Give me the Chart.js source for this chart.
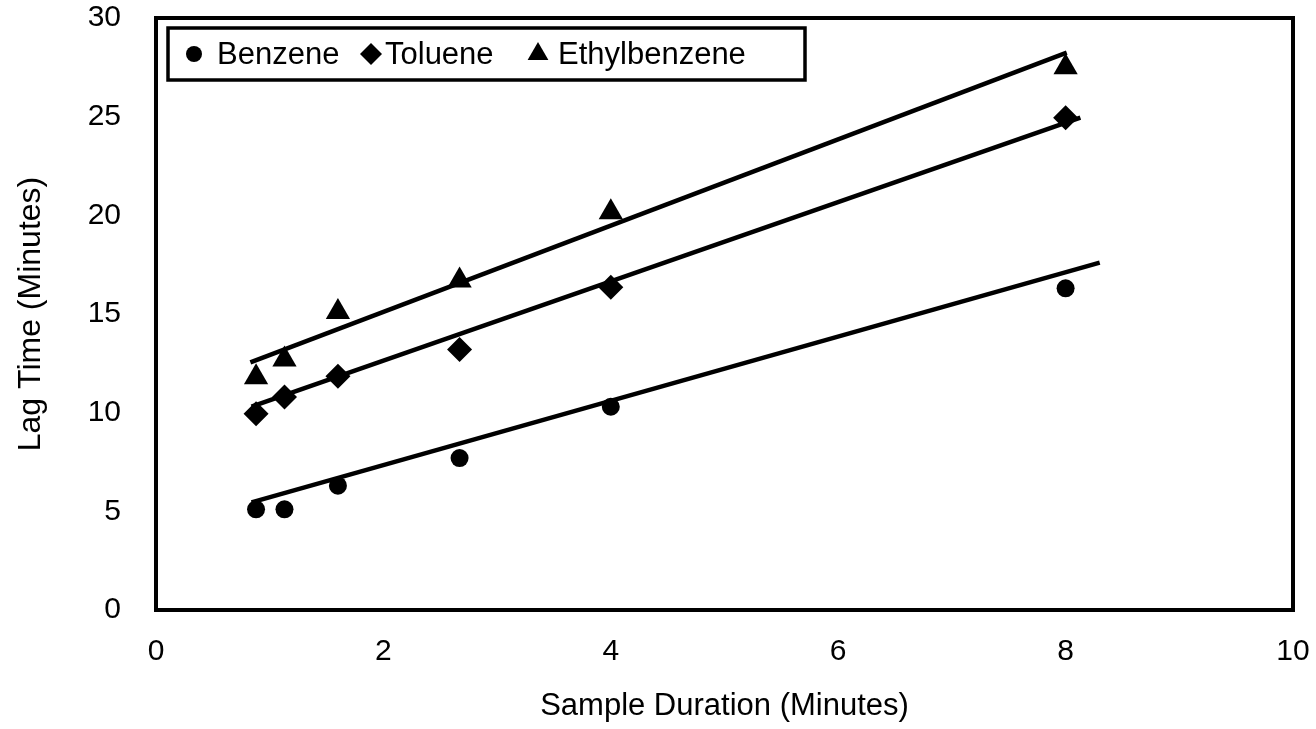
<!DOCTYPE html>
<html>
<head>
<meta charset="utf-8">
<script src="https://cdn.jsdelivr.net/npm/chart.js@4/dist/chart.umd.min.js"></script>
<style>
  html, body { margin: 0; padding: 0; background: #fff; }
  #wrap { width: 1316px; height: 729px; }
</style>
</head>
<body>
<div id="wrap"><canvas id="lagChart"></canvas></div>
<script>
// sample durations (minutes)
const durations = [0.88, 1.13, 1.6, 2.67, 4, 8];

// measured lag times (minutes)
const benzene = [5.1, 5.1, 6.3, 7.7, 10.3, 16.3];
const toluene = [9.95, 10.8, 11.85, 13.2, 16.35, 24.95];
const ethylbenzene = [11.8, 12.7, 15.1, 16.7, 20.15, 27.5];

// fitted lines, as drawn: [x start, x end] and [y start, y end]
const fitX = {
    benzene: [0.84, 8.3],
    toluene: [0.84, 8.13],
    ethylbenzene: [0.83, 8.01]
};
const fitY = {
    benzene: [5.45, 17.6],
    toluene: [10.3, 24.95],
    ethylbenzene: [12.55, 28.25]
};

const xTicks = [0, 2, 4, 6, 8, 10];
const yTicks = [0, 5, 10, 15, 20, 25, 30];

const FONT = '"Liberation Sans", Arial, sans-serif';

function pts(xs, ys) {
    return xs.map((x, i) => ({ x: x, y: ys[i] }));
}

// legend entries; offsets are from the left edge of the legend box
const legendItems = [
    { label: 'Benzene', style: 'circle', r: 8, mx: 26, tx: 49 },
    { label: 'Toluene', style: 'rectRot', r: 11, mx: 203, tx: 217 },
    { label: 'Ethylbenzene', style: 'triangle', r: 12, mx: 370, tx: 390 }
];

// frame around the plot + legend box inside it
const framePlugin = {
    id: 'frame',
    afterDatasetsDraw(chart) {
        const ctx = chart.ctx;
        const a = chart.chartArea;
        ctx.save();
        ctx.strokeStyle = '#000';
        ctx.lineWidth = 4;
        ctx.strokeRect(a.left, a.top, a.right - a.left, a.bottom - a.top);

        // legend
        const bx = a.left + 12, by = a.top + 10, bw = 637, bh = 52;
        ctx.fillStyle = '#fff';
        ctx.fillRect(bx, by, bw, bh);
        ctx.lineWidth = 3.5;
        ctx.strokeRect(bx, by, bw, bh);
        ctx.font = '31px ' + FONT;
        ctx.textBaseline = 'middle';
        const cy = by + bh / 2;
        legendItems.forEach(it => {
            ctx.fillStyle = '#000';
            Chart.helpers.drawPoint(ctx, { pointStyle: it.style, radius: it.r, borderWidth: 0 }, bx + it.mx, cy);
            ctx.fillStyle = '#000';
            ctx.fillText(it.label, bx + it.tx, cy + 1);
        });
        ctx.restore();
    }
};

const ctx = document.getElementById('lagChart').getContext('2d');

new Chart(ctx, {
    type: 'scatter',
    data: {
        datasets: [
            {
                label: 'Benzene',
                data: pts(durations, benzene),
                pointStyle: 'circle',
                pointRadius: 9,
                backgroundColor: '#000',
                borderColor: '#000',
                borderWidth: 0
            },
            {
                label: 'Toluene',
                data: pts(durations, toluene),
                pointStyle: 'rectRot',
                pointRadius: 12.5,
                backgroundColor: '#000',
                borderColor: '#000',
                borderWidth: 0
            },
            {
                label: 'Ethylbenzene',
                data: pts(durations, ethylbenzene),
                pointStyle: 'triangle',
                pointRadius: 14,
                backgroundColor: '#000',
                borderColor: '#000',
                borderWidth: 0
            },
            {
                label: 'Benzene fit',
                type: 'line',
                data: pts(fitX.benzene, fitY.benzene),
                borderColor: '#000',
                borderWidth: 4.5,
                pointRadius: 0,
                fill: false
            },
            {
                label: 'Toluene fit',
                type: 'line',
                data: pts(fitX.toluene, fitY.toluene),
                borderColor: '#000',
                borderWidth: 4.5,
                pointRadius: 0,
                fill: false
            },
            {
                label: 'Ethylbenzene fit',
                type: 'line',
                data: pts(fitX.ethylbenzene, fitY.ethylbenzene),
                borderColor: '#000',
                borderWidth: 4.5,
                pointRadius: 0,
                fill: false
            }
        ]
    },
    options: {
        responsive: true,
        maintainAspectRatio: false,
        animation: false,
        layout: { padding: { top: 18, right: 23, left: 0, bottom: 0 } },
        scales: {
            x: {
                type: 'linear',
                min: 0,
                max: 10,
                afterBuildTicks: s => { s.ticks = xTicks.map(v => ({ value: v })); },
                afterFit: s => { s.height = 119; s.paddingRight = 0; s.paddingLeft = 0; },
                grid: { display: false },
                border: { display: false },
                ticks: {
                    color: '#000',
                    padding: 16,
                    font: { family: FONT, size: 30 }
                },
                title: {
                    display: true,
                    text: 'Sample Duration (Minutes)',
                    color: '#000',
                    padding: { top: 27 },
                    font: { family: FONT, size: 31 }
                }
            },
            y: {
                min: 0,
                max: 30,
                afterBuildTicks: s => { s.ticks = yTicks.map(v => ({ value: v })); },
                afterFit: s => { s.width = 156; s.paddingTop = 0; s.paddingBottom = 0; },
                grid: { display: false },
                border: { display: false },
                ticks: {
                    color: '#000',
                    padding: 27,
                    font: { family: FONT, size: 30 }
                },
                title: {
                    display: true,
                    text: 'Lag Time (Minutes)',
                    color: '#000',
                    padding: { top: 12, bottom: 0 },
                    font: { family: FONT, size: 32 }
                }
            }
        },
        plugins: {
            legend: { display: false },
            title: { display: false },
            tooltip: { enabled: false }
        }
    },
    plugins: [framePlugin]
});
</script>
</body>
</html>
